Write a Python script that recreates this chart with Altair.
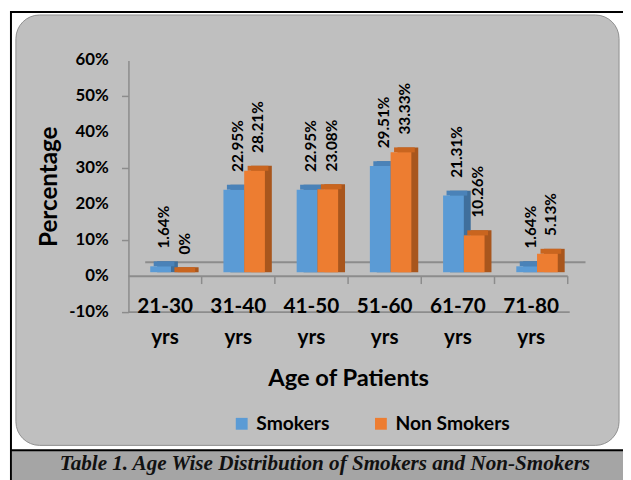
import altair as alt
import pandas as pd

# ---- data ----
categories = ["21-30 yrs", "31-40 yrs", "41-50 yrs", "51-60 yrs", "61-70 yrs", "71-80 yrs"]
smokers = [1.64, 22.95, 22.95, 29.51, 21.31, 1.64]
non_smokers = [0.0, 28.21, 23.08, 33.33, 10.26, 5.13]
series = ["Smokers", "Non Smokers"]
y_ticks = [-10, 0, 10, 20, 30, 40, 50, 60]
x_title = "Age of Patients"
y_title = "Percentage"
caption = "Table 1. Age Wise Distribution of Smokers and Non-Smokers"


def fmt(v):
    return "0%" if v == 0 else f"{v:.2f}%"


rows = []
for c, s, n in zip(categories, smokers, non_smokers):
    rows.append({"age": c, "series": series[0], "pct": s, "label": fmt(s)})
    rows.append({"age": c, "series": series[1], "pct": n, "label": fmt(n)})
df = pd.DataFrame(rows)
cats_df = pd.DataFrame({"age": categories})
ticks_df = pd.DataFrame({"v": y_ticks, "t": [f"{v}%" for v in y_ticks]})
one = pd.DataFrame({"k": [0]})

W, H = 445, 255
FRONT = ["#5b9bd5", "#ed7d31"]
SIDE = ["#3f6f9c", "#a8561d"]
TOP = ["#4a82b8", "#c9651f"]
LINE = "#8c8c8c"

x_scale = alt.Scale(domain=categories, paddingInner=0, paddingOuter=0)
y_scale = alt.Scale(domain=[-10, 60], nice=False, zero=False)

x_axis = alt.Axis(
    title=x_title, labels=False, domain=False, ticks=False, grid=False,
    offset=-20, titleFontSize=24, titleFontWeight="bold", titleColor="black",
    titleY=87, titleBaseline="middle", zindex=2,
)
y_axis = alt.Axis(
    values=y_ticks, labels=False,
    tickSize=7, tickColor=LINE, tickWidth=1.5, domainColor=LINE, domainWidth=1.5,
    grid=False, title=y_title, titleFontSize=24.5, titleFontWeight="bold",
    titleColor="black", titleX=-80, titleBaseline="middle", zindex=2,
)

# ---- decoration ----
border = alt.Chart(one).mark_rect(filled=False, stroke="black", strokeWidth=2).encode(
    x=alt.value(-119), x2=alt.value(540), y=alt.value(-49), y2=alt.value(460))
panel = alt.Chart(one).mark_rect(color="#bfbfbf", cornerRadius=24, stroke="#8f8f8f",
                                 strokeWidth=1).encode(
    x=alt.value(-114), x2=alt.value(497), y=alt.value(-46), y2=alt.value(390))
cap_band = alt.Chart(one).mark_rect(color="#a5a5a5").encode(
    x=alt.value(-118), x2=alt.value(540), y=alt.value(395), y2=alt.value(460))
cap_line = alt.Chart(one).mark_rule(color="black", strokeWidth=2).encode(
    x=alt.value(-119), x2=alt.value(540), y=alt.value(395))
cap_text = alt.Chart(one).mark_text(
    text=caption, font="Liberation Serif", fontStyle="italic", fontWeight="bold",
    fontSize=21.4, color="#111111").encode(x=alt.value(199), y=alt.value(409))

back_grid = alt.Chart(one).mark_rule(color=LINE, strokeWidth=2, yOffset=-14).encode(
    x=alt.value(17), x2=alt.value(463), y=alt.datum(0))
zero_line = alt.Chart(one).mark_rule(color=LINE, strokeWidth=2).encode(
    x=alt.value(0), x2=alt.value(W), y=alt.datum(0))
bottom_line = alt.Chart(one).mark_rule(color=LINE, strokeWidth=2).encode(
    x=alt.value(0), x2=alt.value(W + 2), y=alt.datum(-10))
cat_ticks = alt.Chart(cats_df).mark_rule(color=LINE, strokeWidth=1.5).encode(
    x=alt.X("age:N", bandPosition=1, scale=x_scale, sort=categories),
    y=alt.datum(0), y2=alt.datum(-2.2))
cat_labels = alt.Chart(cats_df).mark_text(
    lineBreak=" ", lineHeight=31, fontSize=21, fontWeight="bold", color="black",
    baseline="alphabetic", yOffset=1).encode(
    x=alt.X("age:N", scale=x_scale, sort=categories),
    y=alt.datum(-10), text="age:N")
y_labels = alt.Chart(ticks_df).mark_text(
    align="right", baseline="middle", fontSize=17, fontWeight="bold",
    color="black").encode(
    x=alt.value(-20), y=alt.Y("v:Q", scale=y_scale, axis=y_axis), text="t:N")

# ---- bars ----
base = alt.Chart(df)
X = alt.X("age:N", scale=x_scale, sort=categories, axis=x_axis)
Y = alt.Y("pct:Q", scale=y_scale, axis=y_axis)

layers = []
offs = [-4.5, 16.5]
for i, s in enumerate(series):
    sub = base.transform_filter(alt.datum.series == s)
    layers.append(sub.mark_bar(width=21, color=SIDE[i], xOffset=offs[i] + 7,
                               yOffset=-9, y2Offset=-4).encode(x=X, y=Y, y2=alt.datum(0)))
for i, s in enumerate(series):
    sub = base.transform_filter(alt.datum.series == s)
    layers.append(sub.mark_bar(width=21, color=TOP[i], xOffset=offs[i] + 3.5,
                               yOffset=-9, y2Offset=-4).encode(x=X, y=Y, y2=alt.Y2("pct:Q")))
for i, s in enumerate(series):
    sub = base.transform_filter(alt.datum.series == s)
    layers.append(sub.mark_bar(width=21, xOffset=offs[i], yOffset=-4, y2Offset=-4).encode(
        x=X, y=Y, y2=alt.datum(0),
        color=alt.Color("series:N", scale=alt.Scale(domain=series, range=FRONT),
                        legend=alt.Legend(
                            orient="none", legendX=105, legendY=358,
                            direction="horizontal", title=None,
                            symbolType="square", symbolSize=144,
                            symbolStrokeWidth=0, labelFontSize=19.5,
                            labelFontWeight="bold", labelColor="black",
                            labelOffset=5, columnPadding=42, zindex=2))))
for i, s in enumerate(series):
    sub = base.transform_filter(alt.datum.series == s)
    layers.append(sub.mark_text(angle=270, align="left", baseline="middle",
                                fontSize=15.5, fontWeight="bold", color="black",
                                xOffset=offs[i] + 4, yOffset=-22).encode(
        x=X, y=Y, text="label:N"))

chart = alt.layer(
    border, panel, cap_band, cap_line, cap_text,
    back_grid, bottom_line, cat_ticks, cat_labels, y_labels, *layers, zero_line,
).properties(
    width=W, height=H,
    padding={"left": 122, "top": 50, "right": 56, "bottom": 167},
    autosize=alt.AutoSizeParams(type="none"),
    background="white",
).configure(font="Lato").configure_view(stroke=None)

chart.save("out.html", embed_options={"renderer": "svg", "actions": False})
